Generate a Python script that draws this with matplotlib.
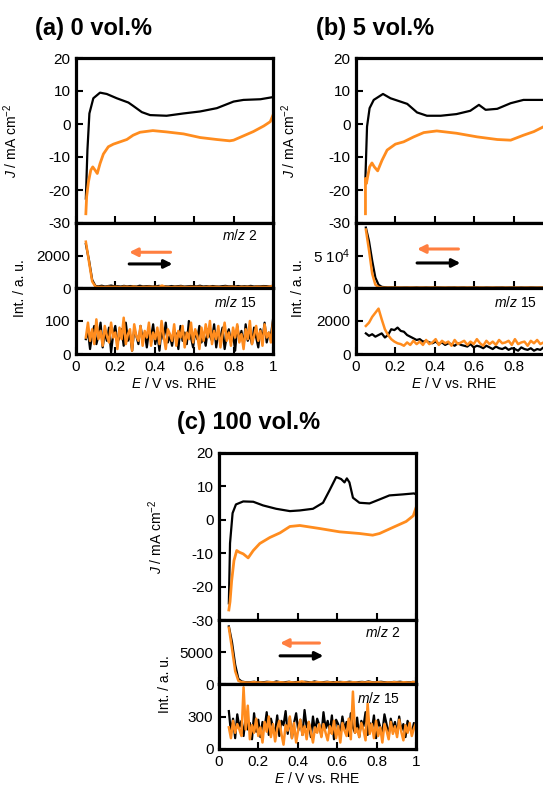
import numpy as np
import matplotlib
matplotlib.use("Agg")
import matplotlib.pyplot as plt

plt.rcParams['font.family'] = ['Liberation Sans', 'DejaVu Sans']
plt.rcParams['mathtext.fontset'] = 'custom'
plt.rcParams['mathtext.it'] = 'Liberation Sans:italic'
plt.rcParams['mathtext.rm'] = 'Liberation Sans'

BLACK = 'black'
ORANGE = '#ff8c1e'
ARROW_OR = '#ff7f40'

# ---------------- CV data (E / V, J / mA cm-2) ----------------
# (a) 0 vol.%
a_fwd_E = [0.05, 0.058, 0.068, 0.088, 0.122, 0.156, 0.207, 0.266, 0.29, 0.334, 0.376, 0.46, 0.546, 0.63, 0.715, 0.8, 0.85, 0.936, 0.995, 1.0]
a_fwd_J = [-22.6, -7.9, 3.2, 7.8, 9.5, 9.1, 7.8, 6.5, 5.5, 3.6, 2.7, 2.5, 3.2, 3.8, 4.8, 6.8, 7.3, 7.5, 8.1, 8.2]
a_rev_E = [1.0, 0.986, 0.953, 0.9, 0.8, 0.78, 0.715, 0.63, 0.546, 0.46, 0.39, 0.325, 0.29, 0.258, 0.224, 0.19, 0.164, 0.139, 0.122, 0.108, 0.097, 0.085, 0.075, 0.063, 0.054, 0.05]
a_rev_J = [2.7, 0.7, -0.6, -2.3, -4.9, -5.1, -4.7, -4.1, -3.0, -2.4, -2.0, -2.5, -3.4, -4.7, -5.4, -6.1, -6.9, -9.1, -12.0, -15.0, -14.0, -13.0, -14.0, -17.6, -22.0, -27.2]

# (b) 5 vol.%
b_fwd_E = [0.048, 0.056, 0.069, 0.09, 0.137, 0.175, 0.225, 0.26, 0.31, 0.36, 0.43, 0.51, 0.58, 0.624, 0.658, 0.717, 0.785, 0.85, 0.953, 1.0]
b_fwd_J = [-16.0, -0.8, 4.8, 7.3, 9.1, 7.8, 6.8, 6.1, 3.5, 2.5, 2.5, 3.0, 4.0, 5.8, 4.3, 4.6, 6.3, 7.3, 7.3, 7.4]
b_rev_E = [1.0, 0.953, 0.903, 0.85, 0.785, 0.717, 0.615, 0.51, 0.41, 0.344, 0.293, 0.242, 0.2, 0.158, 0.132, 0.11, 0.093, 0.081, 0.069, 0.059, 0.053, 0.048, 0.048]
b_rev_J = [1.5, -0.8, -2.3, -3.4, -4.9, -4.7, -3.9, -2.8, -2.1, -2.6, -3.9, -5.4, -6.1, -7.9, -11.0, -14.2, -13.0, -11.8, -13.0, -16.0, -18.0, -16.5, -27.2]

# (c) 100 vol.%
c_fwd_E = [0.05, 0.056, 0.069, 0.086, 0.123, 0.174, 0.224, 0.29, 0.36, 0.41, 0.477, 0.528, 0.56, 0.595, 0.62, 0.637, 0.649, 0.662, 0.68, 0.713, 0.764, 0.815, 0.865, 0.932, 0.99, 1.0]
c_fwd_J = [-25.0, -7.0, 2.0, 4.6, 5.5, 5.4, 4.3, 3.3, 2.6, 2.8, 3.3, 5.1, 8.7, 12.8, 12.2, 11.2, 12.4, 11.2, 6.6, 5.1, 4.9, 6.1, 7.3, 7.6, 7.9, 7.6]
c_rev_E = [1.0, 0.986, 0.95, 0.882, 0.815, 0.78, 0.713, 0.612, 0.51, 0.41, 0.36, 0.31, 0.258, 0.207, 0.174, 0.148, 0.123, 0.103, 0.09, 0.076, 0.064, 0.056, 0.05]
c_rev_J = [3.6, 1.2, -0.5, -2.3, -4.1, -4.6, -4.1, -3.6, -2.6, -1.7, -2.0, -3.9, -5.3, -7.1, -9.2, -11.4, -10.2, -9.7, -9.2, -12.2, -18.4, -24.5, -27.0]

# ---------------- MS data, sampled evenly 0.05 -> 1.0 V ----------------
a_m2_fwd = [2700, 1700, 500, 130, 100, 140, 90, 120, 150, 100, 110, 90, 130, 100, 120, 110, 90, 140, 100, 110,
            120, 90, 100, 130, 110, 100, 90, 120, 100, 110, 130, 90, 100, 120, 110, 100, 140, 90, 110, 100,
            120, 100, 90, 110, 130, 100, 110, 90, 120, 100, 110, 100, 130, 90, 110, 100, 120, 110, 100, 140]
a_m2_rev = [2850, 1600, 400, 90, 60, 70, 50, 80, 60, 70, 60, 50, 80, 70, 60, 90, 60, 50, 70, 60,
            80, 60, 70, 60, 150, 70, 60, 50, 70, 60, 80, 60, 50, 70, 60, 60, 70, 50, 60, 80,
            60, 70, 60, 50, 70, 60, 80, 60, 50, 70, 60, 70, 60, 50, 80, 60, 70, 60, 90, 120]
a_m15_fwd = [45, 70, 15, 60, 85, 30, 55, 95, 20, 65, 40, 80, 5, 60, 85, 35, 50, 75, 25, 95,
             40, 60, 10, 75, 55, 30, 85, 45, 65, 20, 70, 50, 90, 30, 60, 10, 75, 45, 95, 35,
             55, 25, 70, 60, 15, 85, 40, 65, 30, 100, 50, 20, 70, 45, 85, 35, 60, 25, 75, 55,
             40, 90, 20, 65, 50, 80, 15, 55, 75, 35, 60, 10, 85, 45, 70, 25, 90, 40, 60, 30,
             80, 50, 20, 75, 45, 95, 35, 65, 55, 105]
a_m15_rev = [50, 95, 40, 75, 30, 105, 45, 70, 25, 85, 55, 35, 95, 50, 65, 15, 80, 45, 110, 30,
             60, 75, 10, 90, 55, 40, 85, 25, 70, 50, 95, 25, 65, 45, 80, 30, 100, 55, 15, 75,
             60, 40, 90, 25, 70, 50, 85, 20, 65, 45, 95, 35, 75, 55, 15, 80, 40, 90, 50, 100,
             30, 70, 45, 85, 20, 60, 95, 40, 65, 25, 80, 50, 90, 35, 60, 15, 75, 45, 100, 30,
             55, 85, 40, 70, 25, 90, 50, 65, 35, 95]

b_m2_fwd = [93000, 72000, 42000, 16000, 5000, 1800, 1200, 900, 1000, 800, 900, 700, 800, 900, 700, 800, 1000, 700, 800, 900,
            700, 800, 1100, 900, 800, 700, 900, 800, 1000, 700, 800, 900, 700, 800, 900, 1000, 800, 700, 900, 800,
            700, 900, 800, 1000, 700, 800, 900, 700, 800, 900, 700, 800, 1000, 800, 700, 900, 800, 700, 900, 800]
b_m2_rev = [90000, 58000, 22000, 5000, 1500, 700, 500, 600, 500, 400, 600, 500, 400, 500, 600, 500, 400, 500, 600, 400,
            500, 600, 500, 400, 500, 600, 500, 400, 500, 600, 400, 500, 600, 500, 400, 500, 600, 500, 400, 500,
            600, 500, 400, 500, 600, 500, 400, 500, 600, 400, 500, 600, 500, 400, 500, 600, 500, 400, 500, 600]
b_m15_fwd = [1250, 1100, 1200, 1050, 1150, 1250, 1000, 1150, 1500, 1450, 1600, 1400, 1350,
             1150, 1050, 950, 850, 900, 750, 800, 700,
             650, 750, 600, 700, 550, 650, 600, 500, 650, 550,
             500, 450, 600, 400, 500, 450, 350, 500, 400, 300,
             450, 350, 300, 400, 250, 350, 300, 200, 400, 300,
             250, 350, 200, 300, 250, 400, 200, 300, 250]
b_m15_rev = [1700, 1900, 2250, 2500, 2750, 2100, 1500, 1150, 900, 750, 650, 600, 500,
             700, 550, 800, 600, 750, 550, 850, 600,
             700, 900, 550, 800, 650, 750, 500, 850, 600, 700,
             800, 550, 750, 600, 900, 650, 500, 800, 600, 750,
             550, 850, 650, 700, 800, 550, 900, 600, 700, 750,
             500, 800, 650, 850, 600, 700, 550, 800, 650]

c_m2_fwd = [9000, 6500, 3000, 800, 400, 300, 250, 300, 350, 250, 300, 280, 350, 300, 250, 400, 300, 260, 300, 350,
            250, 300, 320, 280, 350, 300, 260, 400, 300, 250, 300, 350, 280, 300, 250, 330, 300, 280, 350, 300,
            250, 300, 330, 280, 400, 300, 250, 300, 350, 280, 300, 250, 330, 300, 350, 280, 300, 250, 330, 300]
c_m2_rev = [8800, 5500, 2000, 500, 300, 250, 200, 250, 300, 220, 250, 200, 260, 300, 250, 220, 280, 250, 200, 300,
            250, 220, 270, 400, 250, 200, 260, 230, 300, 250, 220, 270, 250, 200, 260, 230, 280, 250, 220, 270,
            250, 200, 260, 230, 300, 250, 220, 270, 250, 200, 260, 230, 280, 250, 220, 270, 250, 200, 300, 260]
c_m15_fwd = [350, 150, 280, 100, 320, 200, 260, 120, 300, 180, 240, 90, 330, 160, 270, 110, 250, 190, 340, 130,
             280, 200, 150, 310, 120, 260, 220, 350, 140, 290, 100, 240, 330, 170, 270, 130, 360, 200, 250, 110,
             300, 160, 280, 220, 120, 340, 190, 260, 150, 310, 90, 270, 230, 140, 300, 180, 250, 120, 330, 200,
             150, 290, 110, 260, 210, 340, 130, 240, 180, 310, 100, 270, 200, 150, 320, 230, 120, 280, 190, 250,
             140, 300, 170, 230, 110, 260, 200, 150, 240, 200]
c_m15_rev = [200, 100, 260, 150, 230, 180, 120, 570, 180, 400, 90, 220, 150, 280, 120, 200, 60, 250, 160, 300,
             110, 230, 70, 190, 260, 140, 40, 220, 170, 300, 100, 240, 60, 180, 270, 130, 210, 90, 250, 160,
             60, 200, 150, 230, 110, 230, 150, 80, 210, 140, 260, 100, 210, 60, 240, 170, 120, 280, 90, 530,
             150, 190, 110, 240, 180, 80, 420, 140, 230, 100, 260, 120, 200, 60, 230, 170, 90, 250, 140, 210,
             110, 270, 160, 80, 220, 150, 240, 120, 190, 240]

W, H = 543, 787
fig = plt.figure(figsize=(W / 100, H / 100), dpi=100)
TICK_FS = 11


def px_axes(x0, x1, ytop, ybot):
    return fig.add_axes([x0 / W, 1 - ybot / H, (x1 - x0) / W, (ybot - ytop) / H])


def style(ax, ylim, yticks, ylabels, xlabels=None):
    ax.set_xlim(0, 1)
    ax.set_ylim(*ylim)
    ax.set_xticks([0, 0.2, 0.4, 0.6, 0.8, 1.0])
    ax.set_yticks(yticks)
    ax.set_yticklabels(ylabels)
    ax.set_xticklabels(xlabels if xlabels else [])
    ax.tick_params(direction='in', length=5, width=1.5, labelsize=TICK_FS, pad=4, colors='black')
    for s in ax.spines.values():
        s.set_linewidth(2.3)


def ms_plot(ax, fwd, rev):
    ax.plot(np.linspace(0.05, 1.0, len(fwd)), fwd, color=BLACK, lw=1.6)
    ax.plot(np.linspace(0.05, 1.0, len(rev)), rev, color=ORANGE, lw=1.8)


def panel(x0, ytops, title, tx, ty, cv, m2, m15, lims, arrows, show_m2_label, xtl):
    x1 = x0 + 197
    ax_cv = px_axes(x0, x1, ytops[0], ytops[1])
    ax_m2 = px_axes(x0, x1, ytops[1], ytops[2])
    ax_m15 = px_axes(x0, x1, ytops[2], ytops[3])

    ax_cv.plot(cv[0], cv[1], color=BLACK, lw=1.6)
    ax_cv.plot(cv[2], cv[3], color=ORANGE, lw=2.0)
    style(ax_cv, (-30, 20), [-30, -20, -10, 0, 10, 20], ['-30', '-20', '-10', '0', '10', '20'])
    ax_cv.set_ylabel(r'$J$ / mA cm$^{-2}$', fontsize=10)

    ms_plot(ax_m2, *m2)
    style(ax_m2, lims[0][0], lims[0][1], lims[0][2])

    ms_plot(ax_m15, *m15)
    style(ax_m15, lims[1][0], lims[1][1], lims[1][2], xlabels=xtl)
    ax_m15.set_xlabel(r'$E$ / V vs. RHE', fontsize=10, labelpad=2)

    if show_m2_label:
        ax_m2.text(0.92, 0.8, r'$m/z$ 2', transform=ax_m2.transAxes, ha='right', va='center', fontsize=10)
    ax_m15.text(0.92, 0.78, r'$m/z$ 15', transform=ax_m15.transAxes, ha='right', va='center', fontsize=10)

    (ox0, ox1, oy), (bx0, bx1, by) = arrows
    ax_m2.annotate('', xy=(ox0, oy), xytext=(ox1, oy), xycoords=('data', 'axes fraction'),
                   arrowprops=dict(arrowstyle='-|>', color=ARROW_OR, lw=2.2, mutation_scale=12, shrinkA=0, shrinkB=0))
    ax_m2.annotate('', xy=(bx1, by), xytext=(bx0, by), xycoords=('data', 'axes fraction'),
                   arrowprops=dict(arrowstyle='-|>', color=BLACK, lw=2.2, mutation_scale=12, shrinkA=0, shrinkB=0))

    fig.text(tx / W, 1 - ty / H, title, fontsize=17, fontweight='bold', ha='left', va='center')
    return ax_cv, ax_m2, ax_m15


ms_lims_a = [((0, 4000), [0, 2000], ['0', '2000']), ((0, 200), [0, 100], ['0', '100'])]
ms_lims_b = [((0, 100000), [0, 50000], ['0', r'5 10$^4$']), ((0, 4000), [0, 2000], ['0', '2000'])]
ms_lims_c = [((0, 10000), [0, 5000], ['0', '5000']), ((0, 600), [0, 300], ['0', '300'])]

xtl_full = ['0', '0.2', '0.4', '0.6', '0.8', '1']
xtl_cut = ['0', '0.2', '0.4', '0.6', '0.8', '']

panels = [
    (76, [58, 223, 288, 354], '(a) 0 vol.%', 35, 28, (a_fwd_E, a_fwd_J, a_rev_E, a_rev_J),
     (a_m2_fwd, a_m2_rev), (a_m15_fwd, a_m15_rev), ms_lims_a,
     ((0.27, 0.48, 0.55), (0.27, 0.49, 0.37)), True, xtl_full, 20),
    (356, [58, 223, 288, 354], '(b) 5 vol.%', 316, 28, (b_fwd_E, b_fwd_J, b_rev_E, b_rev_J),
     (b_m2_fwd, b_m2_rev), (b_m15_fwd, b_m15_rev), ms_lims_b,
     ((0.31, 0.52, 0.6), (0.31, 0.53, 0.385)), False, xtl_cut, 298),
    (219, [453, 620, 684, 749], '(c) 100 vol.%', 177, 423, (c_fwd_E, c_fwd_J, c_rev_E, c_rev_J),
     (c_m2_fwd, c_m2_rev), (c_m15_fwd, c_m15_rev), ms_lims_c,
     ((0.31, 0.51, 0.64), (0.31, 0.53, 0.44)), True, xtl_full, 165),
]

for (x0, ytops, title, tx, ty, cv, m2, m15, lims, arrows, show2, xtl, labx) in panels:
    ax_cv, ax_m2, ax_m15 = panel(x0, ytops, title, tx, ty, cv, m2, m15, lims, arrows, show2, xtl)
    ax_cv.yaxis.set_label_coords((labx - x0) / 197, 0.5)
    fig.text(labx / W, 1 - ytops[2] / H, 'Int. / a. u.', rotation=90, fontsize=10, ha='center', va='center')

fig.savefig('out.png', dpi=100)
